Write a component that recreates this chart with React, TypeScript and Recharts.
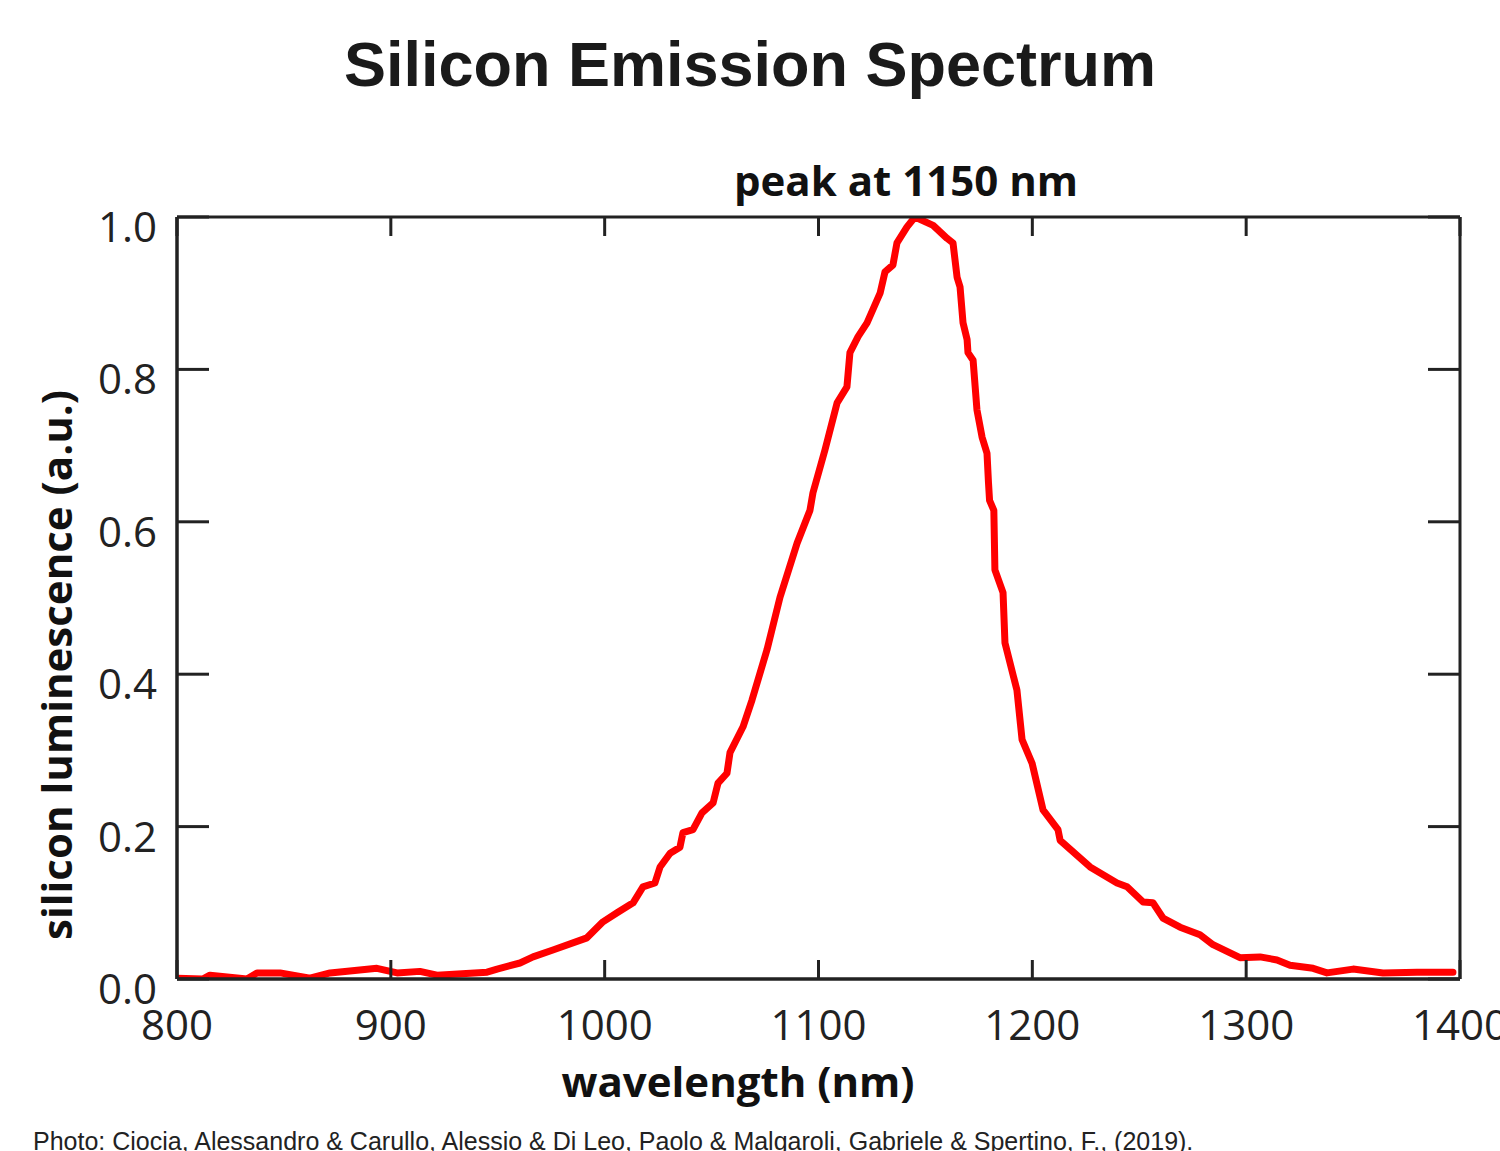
import React from 'react';
import { LineChart, Line, XAxis, YAxis } from 'recharts';

// wavelength (nm) and normalised luminescence
const wavelength = [
    800, 812, 815.4, 832.7, 837.4, 848.2, 862.2, 871.6, 893.5, 902.9, 913.6, 921.6, 945, 949.7,
    960.4, 966.5, 975.8, 991.7, 999.2, 1005.8, 1013.3, 1017.9, 1023.5, 1025.9, 1030.6, 1035.2,
    1036.6, 1041.3, 1045.5, 1050.7, 1053, 1057.2, 1058.6, 1064.7, 1068.9, 1075.9, 1082, 1090, 1096,
    1097.4, 1103, 1108.7, 1113.3, 1114.7, 1118.5, 1122.7, 1128.8, 1131.1, 1134.8, 1136.7, 1141.4,
    1145.1, 1153.6, 1160.1, 1162.9, 1164.8, 1166.2, 1167.6, 1169.5, 1169.9, 1172.3, 1174.1, 1176.5,
    1178.8, 1179.5, 1180, 1182, 1182.5, 1186.3, 1187.2, 1192.8, 1195.2, 1199.9, 1205, 1212, 1213,
    1227, 1239.6, 1244.3, 1251.8, 1256.4, 1261.1, 1269.1, 1278.4, 1284.5, 1297.1, 1306.5, 1314.4,
    1320.5, 1331.3, 1337.8, 1350, 1364, 1379.9, 1396.7,
];
const luminescence = [
    0.001, 0, 0.005, 0, 0.008, 0.008, 0.001, 0.008, 0.014, 0.008, 0.01, 0.005, 0.009, 0.013,
    0.021, 0.029, 0.038, 0.054, 0.075, 0.087, 0.1, 0.121, 0.126, 0.147, 0.165, 0.173,
    0.192, 0.196, 0.218, 0.231, 0.257, 0.27, 0.297, 0.331, 0.366, 0.432, 0.501, 0.572, 0.615,
    0.638, 0.694, 0.756, 0.777, 0.822, 0.843, 0.861, 0.9, 0.928, 0.937, 0.966, 0.987,
    1.0, 0.989, 0.972, 0.966, 0.921, 0.908, 0.861, 0.839, 0.822, 0.812, 0.747, 0.711,
    0.69, 0.651, 0.628, 0.615, 0.537, 0.507, 0.441, 0.379, 0.314, 0.283, 0.222, 0.196, 0.182,
    0.147, 0.126, 0.121, 0.101, 0.1, 0.08, 0.068, 0.058, 0.045, 0.028, 0.029, 0.025,
    0.018, 0.014, 0.008, 0.013, 0.008, 0.009, 0.009,
];
const xTicks = [800, 900, 1000, 1100, 1200, 1300, 1400];
const yTicks = [0, 0.2, 0.4, 0.6, 0.8, 1.0];

const data = wavelength.map((nm, i) => ({ nm, lum: luminescence[i] }));

const axisColor = '#222';
const chartFont = '"Open Sans", sans-serif';

const XTick = ({ x, y, payload }: any) => (
    <text x={x} y={y + 61} textAnchor="middle" fontFamily={chartFont} fontSize={42} fill={axisColor}>
        {payload.value}
    </text>
);

const YTick = ({ x, y, payload }: any) => (
    <text x={x} y={y + 25} textAnchor="end" fontFamily={chartFont} fontSize={42} fill={axisColor}>
        {Number(payload.value).toFixed(1)}
    </text>
);

// inward tick marks only, no label
const NoLabel = () => <g />;

export default function App() {
    const frame = { stroke: axisColor, strokeWidth: 3 };
    const tickLine = { stroke: axisColor, strokeWidth: 3 };

    return (
        <div style={{ position: 'absolute', left: 0, top: 0, width: 1500, height: 1151, overflow: 'hidden', background: '#fff' }}>
            <LineChart
                width={1500}
                height={1151}
                data={data}
                margin={{ top: 217, left: 97, right: 40, bottom: 112 }}
                style={{ position: 'absolute', left: 0, top: 0 }}
            >
                <XAxis
                    xAxisId="x"
                    dataKey="nm"
                    type="number"
                    domain={[800, 1400]}
                    allowDataOverflow
                    ticks={xTicks}
                    height={60}
                    tickLine={false}
                    tickSize={0}
                    tickMargin={0}
                    axisLine={frame}
                    tick={<XTick />}
                    interval={0}
                />
                <XAxis
                    xAxisId="xIn"
                    dataKey="nm"
                    type="number"
                    domain={[800, 1400]}
                    allowDataOverflow
                    ticks={xTicks}
                    orientation="bottom"
                    mirror
                    tick={<NoLabel />}
                    tickSize={19}
                    tickLine={tickLine}
                    axisLine={frame}
                    interval={0}
                />
                <XAxis
                    xAxisId="xTop"
                    dataKey="nm"
                    type="number"
                    domain={[800, 1400]}
                    allowDataOverflow
                    ticks={xTicks}
                    orientation="top"
                    mirror
                    tick={<NoLabel />}
                    tickSize={19}
                    tickLine={tickLine}
                    axisLine={frame}
                    interval={0}
                />
                <YAxis
                    yAxisId="y"
                    type="number"
                    domain={[0, 1]}
                    allowDataOverflow
                    ticks={yTicks}
                    width={80}
                    tickLine={false}
                    tickSize={0}
                    tickMargin={20}
                    axisLine={frame}
                    tick={<YTick />}
                    interval={0}
                />
                <YAxis
                    yAxisId="yIn"
                    type="number"
                    domain={[0, 1]}
                    allowDataOverflow
                    ticks={yTicks}
                    mirror
                    tick={<NoLabel />}
                    tickSize={32}
                    tickLine={tickLine}
                    axisLine={frame}
                    interval={0}
                />
                <YAxis
                    yAxisId="yRight"
                    type="number"
                    domain={[0, 1]}
                    allowDataOverflow
                    ticks={yTicks}
                    orientation="right"
                    mirror
                    tick={<NoLabel />}
                    tickSize={32}
                    tickLine={tickLine}
                    axisLine={frame}
                    interval={0}
                />
                <Line
                    xAxisId="x"
                    yAxisId="y"
                    type="linear"
                    dataKey="lum"
                    stroke="#ff0000"
                    strokeWidth={7}
                    strokeLinejoin="round"
                    strokeLinecap="round"
                    dot={false}
                    activeDot={false}
                    isAnimationActive={false}
                />
            </LineChart>

            <svg width={1500} height={1151} style={{ position: 'absolute', left: 0, top: 0, pointerEvents: 'none' }}>
                <text x={750} y={86} textAnchor="middle" fontFamily='"Liberation Sans", Arial, sans-serif' fontWeight={700} fontSize={63} fill="#1a1a1a">
                    Silicon Emission Spectrum
                </text>
                <text x={906} y={196} textAnchor="middle" fontFamily={chartFont} fontWeight={700} fontSize={42} fill="#111">
                    peak at 1150 nm
                </text>
                <text x={738} y={1097} textAnchor="middle" fontFamily={chartFont} fontWeight={700} fontSize={42} fill="#111">
                    wavelength (nm)
                </text>
                <text transform="translate(72,665) rotate(-90)" textAnchor="middle" fontFamily={chartFont} fontWeight={700} fontSize={42} fill="#111">
                    silicon luminescence (a.u.)
                </text>
                <text x={33} y={1150} fontFamily='"Liberation Sans", Arial, sans-serif' fontSize={25} fill="#222">
                    Photo: Ciocia, Alessandro &amp; Carullo, Alessio &amp; Di Leo, Paolo &amp; Malgaroli, Gabriele &amp; Spertino, F., (2019).
                </text>
            </svg>
        </div>
    );
}
